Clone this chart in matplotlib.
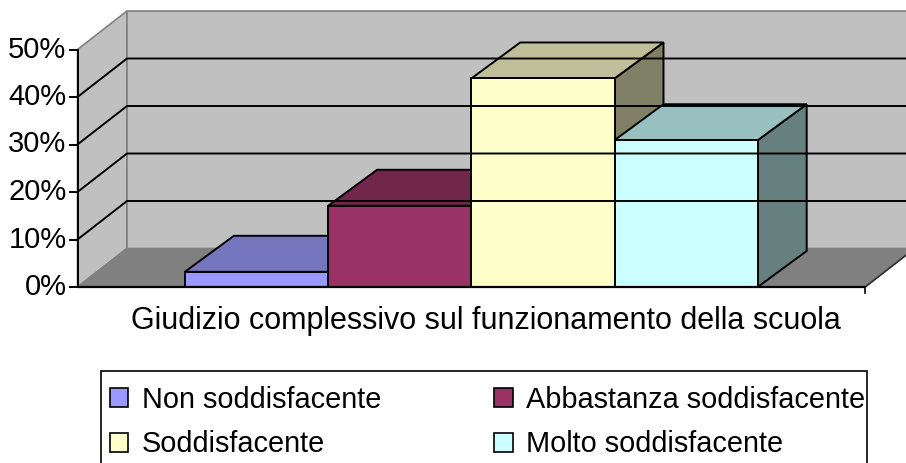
import numpy as np
import matplotlib
matplotlib.use('Agg')
import matplotlib.pyplot as plt
from matplotlib.patches import Polygon, Patch, Rectangle

plt.rcParams['font.family'] = ['Liberation Sans', 'DejaVu Sans']

serie = ['Non soddisfacente', 'Abbastanza soddisfacente', 'Soddisfacente', 'Molto soddisfacente']
valori = [3.2, 17.1, 43.9, 30.9]
categoria = 'Giudizio complessivo sul funzionamento della scuola'
yticks = [0, 10, 20, 30, 40, 50]
yticklabels = ['0%', '10%', '20%', '30%', '40%', '50%']

# colori stile Excel: fronte, sopra, lato
c_front = ['#9999FF', '#993366', '#FFFFCC', '#CCFFFF']
c_top = ['#7676BF', '#72264C', '#BFBF99', '#99C0C0']
c_side = ['#5C5C99', '#5C1F3D', '#808066', '#668080']

W, H = 906, 463
fig = plt.figure(figsize=(W / 100, H / 100), dpi=100)
ax = fig.add_axes([0, 0, 1, 1])
ax.axis('off')

# scala: 1 categoria = 143.2 px, 1% = 4.75 px
px_x, px_y = 143.2, 4.75
x0, y0 = 77.5, 287.0
ax.set_xlim(-0.75 - x0 / px_x, -0.75 + (W - x0) / px_x)
ax.set_ylim((y0 - H) / px_y, y0 / px_y)

dx, dy = 49.5 / px_x, 38.5 / px_y      # profondita pareti
bdx, bdy = 49.0 / px_x, 36.0 / px_y    # profondita barre
xa, xb = -0.75, len(valori) + 0.75
top = 50

# pareti
wall = '#C0C0C0'
ax.add_patch(Polygon([(xa, 0), (xa + dx, dy), (xa + dx, top + dy), (xa, top)],
                     closed=True, fc=wall, ec='#808080', lw=1.2))
ax.add_patch(Polygon([(xa + dx, dy), (xb + dx + 2, dy), (xb + dx + 2, top + dy), (xa + dx, top + dy)],
                     closed=True, fc=wall, ec='#808080', lw=1.2))
ax.add_patch(Polygon([(xa, 0), (xb, 0), (xb + dx, dy), (xa + dx, dy)],
                     closed=True, fc='#808080', ec='#808080', lw=1.2))
ax.plot([xb, xb + dx], [0, dy], color='#303030', lw=1.2)

# griglia
for v in yticks[1:-1]:
    ax.plot([xa, xa + dx, xb + dx + 2], [v, v + dy, v + dy], color='black', lw=1.4)

# barre
for i, v in enumerate(valori):
    l, r = i, i + 1
    ax.add_patch(Polygon([(r, 0), (r + bdx, bdy), (r + bdx, v + bdy), (r, v)],
                         closed=True, fc=c_side[i], ec='black', lw=1.4, joinstyle='miter'))
    ax.add_patch(Polygon([(l, v), (r, v), (r + bdx, v + bdy), (l + bdx, v + bdy)],
                         closed=True, fc=c_top[i], ec='black', lw=1.4, joinstyle='miter'))
    ax.add_patch(Polygon([(l, 0), (r, 0), (r, v), (l, v)],
                         closed=True, fc=c_front[i], ec='black', lw=1.4, joinstyle='miter'))

# assi
ax.plot([xa, xa], [0, top], color='black', lw=1.4)
ax.plot([xa, xb], [0, 0], color='black', lw=1.6)
ax.plot([xb, xb], [0, -6 / px_y], color='black', lw=1.2)
tl = 7.5 / px_x
for v, lab in zip(yticks, yticklabels):
    ax.plot([xa - tl, xa], [v, v], color='black', lw=1.4)
    ax.text(xa - 11 / px_x, v, lab, ha='right', va='center', fontsize=21)

ax.text((xa + xb) / 2 + 14.7 / px_x, -34 / px_y, categoria, ha='center', va='center', fontsize=22)

# riquadro legenda (tagliato in basso come nell'originale)
fig.patches.append(Rectangle((100.7 / W, -0.05), (867 - 100.7) / W, 0.05 + 1 - 371 / H,
                             transform=fig.transFigure, fc='white', ec='black', lw=1.2))

# legenda riga per riga
ordine = [0, 2, 1, 3]
handles = [Patch(fc=c_front[k], ec='black', lw=1.2) for k in ordine]
labels = [serie[k] for k in ordine]
leg = fig.legend(handles, labels, ncol=2, loc='upper left',
                 bbox_to_anchor=(109.5 / W, 1 - 386 / H), borderaxespad=0,
                 fontsize=20.8, frameon=False,
                 handlelength=0.65, handleheight=0.65, handletextpad=0.47,
                 columnspacing=3.9, borderpad=0, labelspacing=0.57)

fig.savefig('out.png', dpi=100)
